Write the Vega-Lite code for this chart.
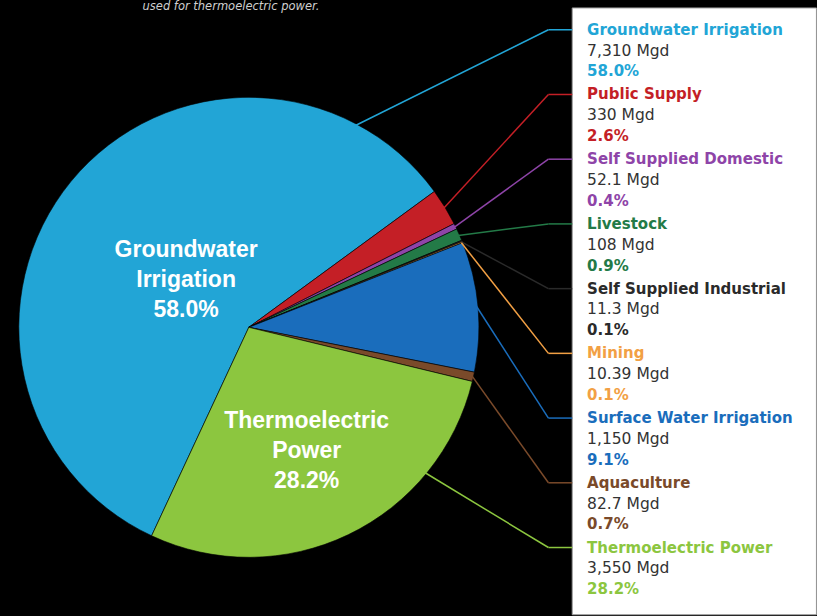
{
  "$schema": "https://vega.github.io/schema/vega-lite/v6.json",
  "width": 817,
  "height": 616,
  "autosize": {"type": "fit", "contains": "padding"},
  "padding": 0,
  "background": "#000000",
  "config": {"view": {"stroke": null}},
  "layer": [
    {
      "data": {"values": [{"box": "legend"}]},
      "mark": {"type": "rect", "color": "#ffffff", "stroke": "#9a9a9a", "strokeWidth": 1},
      "encoding": {
        "x": {"datum": 1.413, "type": "quantitative", "scale": {"domain": [-1.087, 2.465], "nice": false, "zero": false}, "axis": null},
        "x2": {"datum": 2.48},
        "y": {"datum": 1.40, "type": "quantitative", "scale": {"domain": [-1.2435, 1.4348], "nice": false, "zero": false}, "axis": null},
        "y2": {"datum": -1.26}
      }
    },
    {
      "data": {"values": [{"t": "used for thermoelectric power."}]},
      "mark": {"type": "text", "font": "DejaVu Sans", "fontStyle": "italic", "fontSize": 11.5, "color": "#cfcfcf", "align": "center", "baseline": "middle"},
      "encoding": {
        "x": {"datum": -0.078, "type": "quantitative", "scale": {"domain": [-1.087, 2.465], "nice": false, "zero": false}, "axis": null},
        "y": {"datum": 1.404, "type": "quantitative", "scale": {"domain": [-1.2435, 1.4348], "nice": false, "zero": false}, "axis": null},
        "text": {"field": "t"}
      }
    },
    {
      "data": {"values": [
        {"category": "Groundwater Irrigation", "mgd": 7310, "mgdLabel": "7,310 Mgd", "pctLabel": "58.0%", "order": 0},
        {"category": "Public Supply", "mgd": 330, "mgdLabel": "330 Mgd", "pctLabel": "2.6%", "order": 1},
        {"category": "Self Supplied Domestic", "mgd": 52.1, "mgdLabel": "52.1 Mgd", "pctLabel": "0.4%", "order": 2},
        {"category": "Livestock", "mgd": 108, "mgdLabel": "108 Mgd", "pctLabel": "0.9%", "order": 3},
        {"category": "Self Supplied Industrial", "mgd": 11.3, "mgdLabel": "11.3 Mgd", "pctLabel": "0.1%", "order": 4},
        {"category": "Mining", "mgd": 10.39, "mgdLabel": "10.39 Mgd", "pctLabel": "0.1%", "order": 5},
        {"category": "Surface Water Irrigation", "mgd": 1150, "mgdLabel": "1,150 Mgd", "pctLabel": "9.1%", "order": 6},
        {"category": "Aquaculture", "mgd": 82.7, "mgdLabel": "82.7 Mgd", "pctLabel": "0.7%", "order": 7},
        {"category": "Thermoelectric Power", "mgd": 3550, "mgdLabel": "3,550 Mgd", "pctLabel": "28.2%", "order": 8}
      ]},
      "transform": [
        {"window": [{"op": "sum", "field": "mgd", "as": "cum"}], "sort": [{"field": "order"}], "frame": [null, 0]},
        {"joinaggregate": [{"op": "sum", "field": "mgd", "as": "total"}]},
        {"calculate": "205 + 360 * (datum.cum - datum.mgd) / datum.total", "as": "startDeg"},
        {"calculate": "205 + 360 * datum.cum / datum.total", "as": "endDeg"},
        {"calculate": "(datum.startDeg + datum.endDeg) / 2", "as": "midDeg"},
        {"calculate": "datum.endDeg - datum.startDeg", "as": "span"},
        {"calculate": "datum.span > 60 ? clamp(datum.startDeg > 180 ? 450 : 90, datum.startDeg + 26, datum.endDeg - 26) : datum.midDeg", "as": "attach"},
        {"calculate": "sin(datum.attach * PI / 180)", "as": "x1"},
        {"calculate": "cos(datum.attach * PI / 180)", "as": "y1"},
        {"calculate": "(330 - (30 + 65.25 * datum.order)) / 230", "as": "yLeg"},
        {"calculate": "datum.yLeg - 21 / 230", "as": "yMgd"},
        {"calculate": "datum.yLeg - 42 / 230", "as": "yPct"},
        {"calculate": "4 * sin(datum.span * PI / 360) / (3 * datum.span * PI / 180)", "as": "cen"},
        {"calculate": "sin(datum.midDeg * PI / 180) * datum.cen", "as": "lx"},
        {"calculate": "cos(datum.midDeg * PI / 180) * datum.cen", "as": "ly"},
        {"calculate": "replace(datum.category, ' ', '\\n') + '\\n' + datum.pctLabel", "as": "pieLabel"}
      ],
      "layer": [
        {
          "mark": {"type": "arc", "outerRadius": 230, "stroke": "#000000", "strokeWidth": 0.6},
          "encoding": {
            "theta": {"field": "mgd", "type": "quantitative", "stack": true, "scale": {"range": [3.5779, 9.8611]}},
            "order": {"field": "order", "type": "quantitative"},
            "color": {"field": "category", "type": "nominal", "legend": null,
              "scale": {
                "domain": ["Groundwater Irrigation", "Public Supply", "Self Supplied Domestic", "Livestock", "Self Supplied Industrial", "Mining", "Surface Water Irrigation", "Aquaculture", "Thermoelectric Power"],
                "range": ["#22a5d6", "#c41f26", "#8e44a8", "#237a47", "#2a2a2a", "#f2a044", "#1a6dbc", "#7a4a2a", "#8cc63f"]
              }},
            "x": {"datum": 0, "type": "quantitative", "scale": {"domain": [-1.087, 2.465], "nice": false, "zero": false}, "axis": null},
            "y": {"datum": 0, "type": "quantitative", "scale": {"domain": [-1.2435, 1.4348], "nice": false, "zero": false}, "axis": null}
          }
        },
        {
          "mark": {"type": "rule", "strokeWidth": 1.5},
          "encoding": {
            "x": {"field": "x1", "type": "quantitative", "scale": {"domain": [-1.087, 2.465], "nice": false, "zero": false}, "axis": null},
            "y": {"field": "y1", "type": "quantitative", "scale": {"domain": [-1.2435, 1.4348], "nice": false, "zero": false}, "axis": null},
            "x2": {"datum": 1.309},
            "y2": {"field": "yLeg"},
            "color": {"field": "category", "type": "nominal", "legend": null}
          }
        },
        {
          "mark": {"type": "rule", "strokeWidth": 1.5},
          "encoding": {
            "x": {"datum": 1.309, "type": "quantitative", "scale": {"domain": [-1.087, 2.465], "nice": false, "zero": false}, "axis": null},
            "y": {"field": "yLeg", "type": "quantitative", "scale": {"domain": [-1.2435, 1.4348], "nice": false, "zero": false}, "axis": null},
            "x2": {"datum": 1.413},
            "color": {"field": "category", "type": "nominal", "legend": null}
          }
        },
        {
          "mark": {"type": "text", "font": "DejaVu Sans", "fontWeight": "bold", "fontSize": 15, "align": "left", "baseline": "middle"},
          "encoding": {
            "x": {"datum": 1.478, "type": "quantitative", "scale": {"domain": [-1.087, 2.465], "nice": false, "zero": false}, "axis": null},
            "y": {"field": "yLeg", "type": "quantitative", "scale": {"domain": [-1.2435, 1.4348], "nice": false, "zero": false}, "axis": null},
            "text": {"field": "category"},
            "color": {"field": "category", "type": "nominal", "legend": null}
          }
        },
        {
          "mark": {"type": "text", "font": "DejaVu Sans", "fontSize": 15.5, "align": "left", "baseline": "middle", "color": "#333333"},
          "encoding": {
            "x": {"datum": 1.478, "type": "quantitative", "scale": {"domain": [-1.087, 2.465], "nice": false, "zero": false}, "axis": null},
            "y": {"field": "yMgd", "type": "quantitative", "scale": {"domain": [-1.2435, 1.4348], "nice": false, "zero": false}, "axis": null},
            "text": {"field": "mgdLabel"}
          }
        },
        {
          "mark": {"type": "text", "font": "DejaVu Sans", "fontWeight": "bold", "fontSize": 15, "align": "left", "baseline": "middle"},
          "encoding": {
            "x": {"datum": 1.478, "type": "quantitative", "scale": {"domain": [-1.087, 2.465], "nice": false, "zero": false}, "axis": null},
            "y": {"field": "yPct", "type": "quantitative", "scale": {"domain": [-1.2435, 1.4348], "nice": false, "zero": false}, "axis": null},
            "text": {"field": "pctLabel"},
            "color": {"field": "category", "type": "nominal", "legend": null}
          }
        },
        {
          "transform": [{"filter": "datum.span > 60"}],
          "mark": {"type": "text", "font": "Liberation Sans", "fontWeight": "bold", "fontSize": 23, "lineHeight": 30, "lineBreak": "\n", "align": "center", "baseline": "middle", "color": "#ffffff", "dy": -26},
          "encoding": {
            "x": {"field": "lx", "type": "quantitative", "scale": {"domain": [-1.087, 2.465], "nice": false, "zero": false}, "axis": null},
            "y": {"field": "ly", "type": "quantitative", "scale": {"domain": [-1.2435, 1.4348], "nice": false, "zero": false}, "axis": null},
            "text": {"field": "pieLabel"}
          }
        }
      ]
    }
  ]
}
